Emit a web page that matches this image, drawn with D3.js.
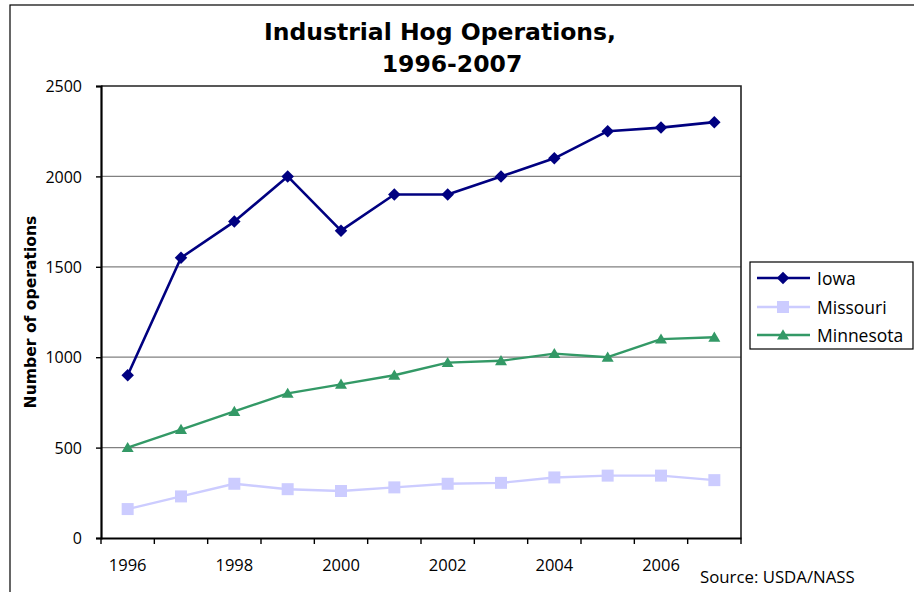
<!DOCTYPE html>
<html>
<head>
<meta charset="utf-8">
<script src="https://cdn.jsdelivr.net/npm/d3@7"></script>
<style>
  html, body { margin: 0; padding: 0; background: #fff; }
  svg { display: block; }
</style>
</head>
<body>
<svg id="chart" width="914" height="592"></svg>
<script>
const years = [1996, 1997, 1998, 1999, 2000, 2001, 2002, 2003, 2004, 2005, 2006, 2007];
const iowa = [900, 1550, 1750, 2000, 1700, 1900, 1900, 2000, 2100, 2250, 2270, 2300];
const missouri = [160, 230, 300, 270, 260, 280, 300, 305, 335, 345, 345, 320];
const minnesota = [500, 600, 700, 800, 850, 900, 970, 980, 1020, 1000, 1100, 1110];
const yTicks = [0, 500, 1000, 1500, 2000, 2500];
const xLabelYears = [1996, 1998, 2000, 2002, 2004, 2006];
const seriesNames = ["Iowa", "Missouri", "Minnesota"];
const titleLines = ["Industrial Hog Operations,", "1996-2007"];
const yTitle = "Number of operations";
const sourceText = "Source: USDA/NASS";

const series = [
  { name: seriesNames[0], values: iowa, color: "#000080", marker: "diamond", width: 2.6 },
  { name: seriesNames[1], values: missouri, color: "#ccccff", marker: "square", width: 2.4 },
  { name: seriesNames[2], values: minnesota, color: "#339966", marker: "triangle", width: 2.4 }
];

const svg = d3.select("#chart");
const plot = { left: 101, top: 86, right: 741, bottom: 538 };

const x = d3.scaleBand().domain(years).range([plot.left, plot.right]).padding(0);
const y = d3.scaleLinear().domain([0, 2500]).range([plot.bottom, plot.top]);

const tickFont = "'Open Sans', 'Noto Sans', sans-serif";
const boldFont = "'DejaVu Sans', sans-serif";

// outer chart border
svg.append("rect")
  .attr("x", 10).attr("y", 5).attr("width", 930).attr("height", 620)
  .attr("fill", "#fff").attr("stroke", "#000").attr("stroke-width", 1.2);

// gridlines
svg.append("g")
  .selectAll("line")
  .data(yTicks.filter(d => d > 0 && d < 2500))
  .join("line")
  .attr("x1", plot.left).attr("x2", plot.right)
  .attr("y1", d => y(d)).attr("y2", d => y(d))
  .attr("stroke", "#808080").attr("stroke-width", 1.3);

// plot frame (top/right)
svg.append("path")
  .attr("d", `M${plot.left},${plot.top}H${plot.right}V${plot.bottom}`)
  .attr("fill", "none").attr("stroke", "#222").attr("stroke-width", 1.6);

// y axis
const yAxis = d3.axisLeft(y).tickValues(yTicks).tickSize(5).tickPadding(14).tickFormat(d3.format("d"));
const gy = svg.append("g").attr("transform", `translate(${plot.left},0)`).call(yAxis);
gy.select(".domain").attr("stroke", "#000").attr("stroke-width", 2.2);
gy.selectAll(".tick line").attr("stroke", "#000").attr("stroke-width", 1.4);
gy.selectAll(".tick text")
  .attr("font-family", tickFont).attr("font-size", 16).attr("fill", "#000")
  .attr("dy", "0.35em");

// x axis
const xAxis = d3.axisBottom(x).tickSize(0).tickPadding(0)
  .tickFormat(d => xLabelYears.includes(d) ? String(d) : "");
const gx = svg.append("g").attr("transform", `translate(0,${plot.bottom})`).call(xAxis);
gx.select(".domain").attr("stroke", "#000").attr("stroke-width", 2.2);
gx.selectAll(".tick text")
  .attr("font-family", tickFont).attr("font-size", 16.5).attr("fill", "#000")
  .attr("dy", 0).attr("y", 33);
// tick marks at category boundaries
const boundaries = years.map(d => x(d)).concat([x(years[years.length - 1]) + x.bandwidth()]);
gx.append("g").selectAll("line")
  .data(boundaries)
  .join("line")
  .attr("x1", d => d).attr("x2", d => d)
  .attr("y1", 0).attr("y2", 6)
  .attr("stroke", "#000").attr("stroke-width", 1.4);

// marker paths
function markerPath(type, s) {
  const h = s / 2;
  if (type === "diamond") return `M0,${-h}L${h},0L0,${h}L${-h},0Z`;
  if (type === "square") return `M${-h},${-h}H${h}V${h}H${-h}Z`;
  return `M0,${-h * 0.95}L${h},${h * 0.75}L${-h},${h * 0.75}Z`;
}
const markerSize = { diamond: 12.5, square: 12, triangle: 12 };

const cx = i => x(years[i]) + x.bandwidth() / 2;

series.forEach(s => {
  const line = d3.line().x((d, i) => cx(i)).y(d => y(d));
  svg.append("path")
    .datum(s.values)
    .attr("d", line)
    .attr("fill", "none")
    .attr("stroke", s.color)
    .attr("stroke-width", s.width)
    .attr("stroke-linejoin", "round");
  svg.append("g").selectAll("path")
    .data(s.values)
    .join("path")
    .attr("transform", (d, i) => `translate(${cx(i)},${y(d)})`)
    .attr("d", markerPath(s.marker, markerSize[s.marker]))
    .attr("fill", s.color);
});

// title
svg.append("text")
  .attr("x", 440).attr("y", 40)
  .attr("text-anchor", "middle")
  .attr("font-family", boldFont).attr("font-weight", "bold").attr("font-size", 23.5)
  .attr("fill", "#000")
  .text(titleLines[0]);
svg.append("text")
  .attr("x", 452).attr("y", 72)
  .attr("text-anchor", "middle")
  .attr("font-family", boldFont).attr("font-weight", "bold").attr("font-size", 23.5)
  .attr("fill", "#000")
  .text(titleLines[1]);

// y title
svg.append("text")
  .attr("transform", `translate(36,${(plot.top + plot.bottom) / 2}) rotate(-90)`)
  .attr("text-anchor", "middle")
  .attr("font-family", boldFont).attr("font-weight", "bold").attr("font-size", 15.6)
  .attr("fill", "#000")
  .text(yTitle);

// legend
const legend = svg.append("g");
legend.append("rect")
  .attr("x", 750).attr("y", 262).attr("width", 163).attr("height", 87)
  .attr("fill", "#fff").attr("stroke", "#000").attr("stroke-width", 1.2);
const legendRows = [278, 307, 335];
series.forEach((s, i) => {
  const ly = legendRows[i];
  legend.append("line")
    .attr("x1", 757).attr("x2", 810).attr("y1", ly).attr("y2", ly)
    .attr("stroke", s.color).attr("stroke-width", s.width);
  legend.append("path")
    .attr("transform", `translate(783,${ly})`)
    .attr("d", markerPath(s.marker, markerSize[s.marker]))
    .attr("fill", s.color);
  legend.append("text")
    .attr("x", 817).attr("y", ly + 6.5)
    .attr("font-family", tickFont).attr("font-size", 17.5).attr("fill", "#000")
    .text(s.name);
});

// source
svg.append("text")
  .attr("x", 700).attr("y", 583)
  .attr("font-family", tickFont).attr("font-size", 16.8).attr("fill", "#000")
  .text(sourceText);
</script>
</body>
</html>
